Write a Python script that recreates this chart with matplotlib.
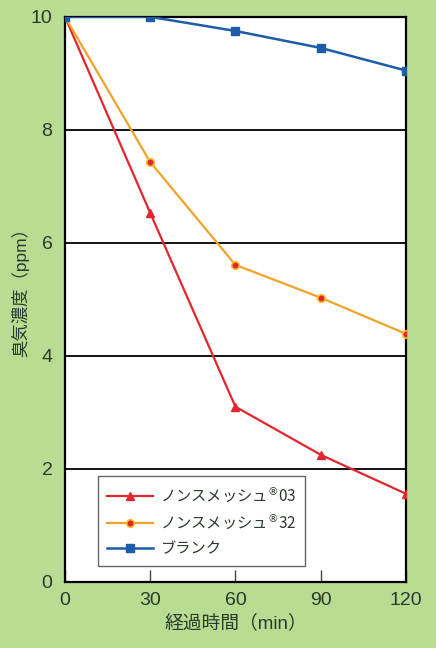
#!/usr/bin/env python3
"""Odor concentration vs elapsed time."""
import matplotlib.pyplot as plt
from matplotlib.ticker import MultipleLocator

plt.rcParams["font.family"] = ["Liberation Sans", "Noto Sans CJK JP", "DejaVu Sans"]

# data
minutes = [0, 30, 60, 90, 120]
nonsmesh_03 = [10.0, 6.53, 3.10, 2.25, 1.56]
nonsmesh_32 = [10.0, 7.43, 5.61, 5.03, 4.39]
blank = [10.0, 10.0, 9.75, 9.45, 9.05]
labels = [r"ノンスメッシュ$^{\circledR}$03",
          r"ノンスメッシュ$^{\circledR}$32",
          "ブランク"]

bg = "#b8dd92"
txt = "#2b3a2b"

fig = plt.figure(figsize=(4.36, 6.48), dpi=100, facecolor=bg)
ax = fig.add_axes([0.149, 0.102, 0.782, 0.872])
ax.set_facecolor("white")

ax.plot(minutes, nonsmesh_03, color="#e3262e", lw=1.6, marker="^", ms=6,
        mfc="#e3262e", mec="#e3262e", label=labels[0], zorder=4)
ax.plot(minutes, nonsmesh_32, color="#f0a326", lw=1.6, marker="o", ms=5.5,
        mfc="#e3262e", mec="#f5c02a", mew=1.2, label=labels[1], zorder=4)
ax.plot(minutes, blank, color="#1d5ca8", lw=1.8, marker="s", ms=5.5,
        mfc="#1d5ca8", mec="#1d5ca8", label=labels[2], zorder=5)

ax.set_xlim(0, 120)
ax.set_ylim(0, 10)
ax.xaxis.set_major_locator(MultipleLocator(30))
ax.yaxis.set_major_locator(MultipleLocator(2))
ax.grid(True, axis="y", color="black", lw=1.3)
ax.tick_params(axis="x", direction="in", length=9, width=1, color="#444444",
               labelsize=14, labelcolor=txt, pad=7)
ax.tick_params(axis="y", length=0, labelsize=14, labelcolor=txt, pad=9)
for s in ax.spines.values():
    s.set_color("black")
    s.set_linewidth(1.6)

ax.set_xlabel("経過時間（min）", fontsize=13.5, color=txt, labelpad=4)
ax.set_ylabel("臭気濃度（ppm）", fontsize=12.5, color=txt)
ax.yaxis.set_label_coords(-0.105, 0.52)

leg = ax.legend(loc="lower left", bbox_to_anchor=(0.097, 0.028),
                borderaxespad=0, handlelength=3.0, handletextpad=0.45,
                prop={"family": ["Noto Sans CJK JP", "DejaVu Sans"], "size": 11},
                fancybox=False, framealpha=1, edgecolor="#666666",
                borderpad=0.6, labelspacing=0.5)
for t in leg.get_texts():
    t.set_color(txt)

fig.savefig("out.png", dpi=100, facecolor=bg)
